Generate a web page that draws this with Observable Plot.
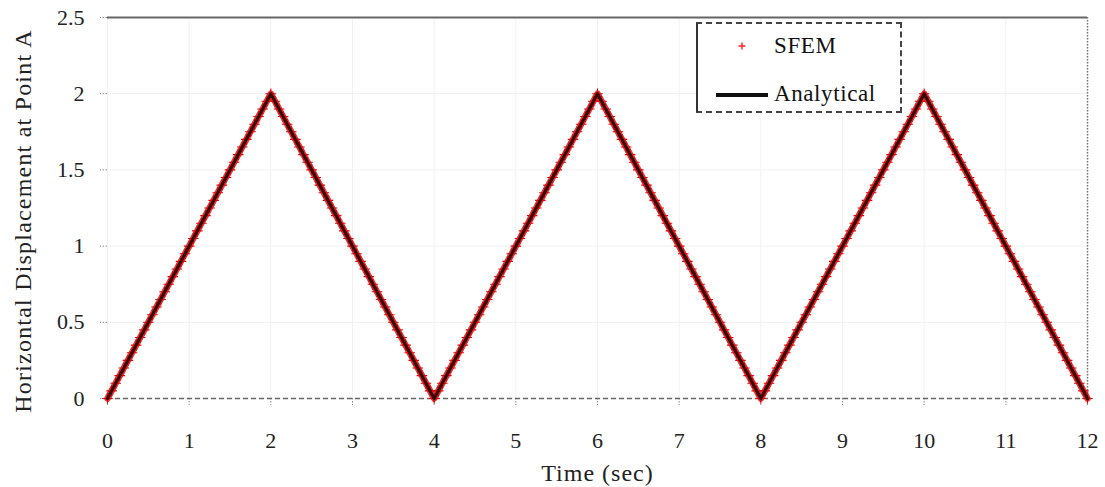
<!DOCTYPE html>
<html>
<head>
<meta charset="utf-8">
<script src="https://cdn.jsdelivr.net/npm/d3@7"></script>
<script src="https://cdn.jsdelivr.net/npm/@observablehq/plot@0.6"></script>
<style>
  body { margin: 0; background: #fff; }
  #wrap { position: relative; width: 1105px; height: 487px; font-family: "Liberation Serif", "Times New Roman", serif; }
  #legend { position: absolute; left: 696px; top: 22px; width: 206px; height: 91px;
    border: 2px dashed #444; border-left: 2px solid #333; background: #fff; box-sizing: border-box; }
  #legend .row { position: absolute; left: 0; display: flex; align-items: center; font-size: 23px; color: #111; letter-spacing: 0.6px; }
</style>
</head>
<body>
<div id="wrap">
  <div id="chart"></div>
  <div id="legend">
    <div class="row" style="top:8px;">
      <svg width="76" height="28"><path d="M44,10.5V17.5M40.5,14H47.5" stroke="#f22" stroke-width="1.4"/></svg>
      <span>SFEM</span>
    </div>
    <div class="row" style="top:56px;">
      <svg width="76" height="28"><line x1="18" x2="70" y1="15" y2="15" stroke="#111" stroke-width="4"/></svg>
      <span>Analytical</span>
    </div>
  </div>
</div>
<script>
// Analytical solution (vertices of the triangular response)
const analyticalTime = [0, 2, 4, 6, 8, 10, 12];
const analyticalDisp = [0, 2, 0, 2, 0, 2, 0];

// SFEM samples
const sfemTime = [
  0,0.05,0.1,0.15,0.2,0.25,0.3,0.35,0.4,0.45,0.5,0.55,0.6,0.65,0.7,0.75,0.8,0.85,0.9,0.95,
  1,1.05,1.1,1.15,1.2,1.25,1.3,1.35,1.4,1.45,1.5,1.55,1.6,1.65,1.7,1.75,1.8,1.85,1.9,1.95,
  2,2.05,2.1,2.15,2.2,2.25,2.3,2.35,2.4,2.45,2.5,2.55,2.6,2.65,2.7,2.75,2.8,2.85,2.9,2.95,
  3,3.05,3.1,3.15,3.2,3.25,3.3,3.35,3.4,3.45,3.5,3.55,3.6,3.65,3.7,3.75,3.8,3.85,3.9,3.95,
  4,4.05,4.1,4.15,4.2,4.25,4.3,4.35,4.4,4.45,4.5,4.55,4.6,4.65,4.7,4.75,4.8,4.85,4.9,4.95,
  5,5.05,5.1,5.15,5.2,5.25,5.3,5.35,5.4,5.45,5.5,5.55,5.6,5.65,5.7,5.75,5.8,5.85,5.9,5.95,
  6,6.05,6.1,6.15,6.2,6.25,6.3,6.35,6.4,6.45,6.5,6.55,6.6,6.65,6.7,6.75,6.8,6.85,6.9,6.95,
  7,7.05,7.1,7.15,7.2,7.25,7.3,7.35,7.4,7.45,7.5,7.55,7.6,7.65,7.7,7.75,7.8,7.85,7.9,7.95,
  8,8.05,8.1,8.15,8.2,8.25,8.3,8.35,8.4,8.45,8.5,8.55,8.6,8.65,8.7,8.75,8.8,8.85,8.9,8.95,
  9,9.05,9.1,9.15,9.2,9.25,9.3,9.35,9.4,9.45,9.5,9.55,9.6,9.65,9.7,9.75,9.8,9.85,9.9,9.95,
  10,10.05,10.1,10.15,10.2,10.25,10.3,10.35,10.4,10.45,10.5,10.55,10.6,10.65,10.7,10.75,10.8,10.85,10.9,10.95,
  11,11.05,11.1,11.15,11.2,11.25,11.3,11.35,11.4,11.45,11.5,11.55,11.6,11.65,11.7,11.75,11.8,11.85,11.9,11.95,
  12
];
const sfemDisp = [
  0,0.05,0.1,0.15,0.2,0.25,0.3,0.35,0.4,0.45,0.5,0.55,0.6,0.65,0.7,0.75,0.8,0.85,0.9,0.95,
  1,1.05,1.1,1.15,1.2,1.25,1.3,1.35,1.4,1.45,1.5,1.55,1.6,1.65,1.7,1.75,1.8,1.85,1.9,1.95,
  2,1.95,1.9,1.85,1.8,1.75,1.7,1.65,1.6,1.55,1.5,1.45,1.4,1.35,1.3,1.25,1.2,1.15,1.1,1.05,
  1,0.95,0.9,0.85,0.8,0.75,0.7,0.65,0.6,0.55,0.5,0.45,0.4,0.35,0.3,0.25,0.2,0.15,0.1,0.05,
  0,0.05,0.1,0.15,0.2,0.25,0.3,0.35,0.4,0.45,0.5,0.55,0.6,0.65,0.7,0.75,0.8,0.85,0.9,0.95,
  1,1.05,1.1,1.15,1.2,1.25,1.3,1.35,1.4,1.45,1.5,1.55,1.6,1.65,1.7,1.75,1.8,1.85,1.9,1.95,
  2,1.95,1.9,1.85,1.8,1.75,1.7,1.65,1.6,1.55,1.5,1.45,1.4,1.35,1.3,1.25,1.2,1.15,1.1,1.05,
  1,0.95,0.9,0.85,0.8,0.75,0.7,0.65,0.6,0.55,0.5,0.45,0.4,0.35,0.3,0.25,0.2,0.15,0.1,0.05,
  0,0.05,0.1,0.15,0.2,0.25,0.3,0.35,0.4,0.45,0.5,0.55,0.6,0.65,0.7,0.75,0.8,0.85,0.9,0.95,
  1,1.05,1.1,1.15,1.2,1.25,1.3,1.35,1.4,1.45,1.5,1.55,1.6,1.65,1.7,1.75,1.8,1.85,1.9,1.95,
  2,1.95,1.9,1.85,1.8,1.75,1.7,1.65,1.6,1.55,1.5,1.45,1.4,1.35,1.3,1.25,1.2,1.15,1.1,1.05,
  1,0.95,0.9,0.85,0.8,0.75,0.7,0.65,0.6,0.55,0.5,0.45,0.4,0.35,0.3,0.25,0.2,0.15,0.1,0.05,
  0
];

const xTicks = [0,1,2,3,4,5,6,7,8,9,10,11,12];
const yTicks = [0,0.5,1,1.5,2,2.5];
const xLabel = "Time (sec)";
const yLabel = "Horizontal Displacement at Point A";

const sfem = sfemTime.map((t, i) => ({t, d: sfemDisp[i]}));
const analytical = analyticalTime.map((t, i) => ({t, d: analyticalDisp[i]}));

const chart = Plot.plot({
  width: 1105,
  height: 487,
  marginLeft: 107,
  marginRight: 18,
  marginTop: 17,
  marginBottom: 89,
  style: { fontFamily: "Liberation Serif, Times New Roman, serif", fontSize: "22px", color: "#222", background: "#fff", overflow: "visible" },
  x: { domain: [0, 12] },
  y: { domain: [0, 2.5] },
  marks: [
    Plot.gridX(xTicks, { stroke: "#f1f1f1", strokeOpacity: 1 }),
    Plot.gridY(yTicks, { stroke: "#f1f1f1", strokeOpacity: 1 }),
    Plot.axisX(xTicks, { tickSize: 7, tickPadding: 27, stroke: "#888", strokeDasharray: "1.5,1.5",
      tickFormat: d => String(d),
      fontSize: 22, label: xLabel, labelAnchor: "center", labelArrow: "none", labelOffset: 82 }),
    Plot.axisY(yTicks, { tickSize: 7, tickPadding: 16, stroke: "#888", strokeDasharray: "1.5,1.5",
      tickFormat: d => String(d),
      fontSize: 22, label: yLabel, labelAnchor: "center", labelArrow: "none", labelOffset: 94 }),
    Plot.ruleY([2.5], { stroke: "#666", strokeWidth: 2 }),
    Plot.ruleY([0], { stroke: "#666", strokeWidth: 1.5, strokeDasharray: "5,3" }),
    Plot.ruleX([12], { stroke: "#777", strokeWidth: 1.5, strokeDasharray: "1.5,1.5" }),
    Plot.line(sfem, { x: "t", y: "d", stroke: "#e01010", strokeWidth: 6.5, strokeOpacity: 0.85 }),
    Plot.dot(sfem, { x: "t", y: "d", symbol: "plus", r: 3.5, stroke: "#e00", strokeWidth: 1.1 }),
    Plot.line(analytical, { x: "t", y: "d", stroke: "#1a0000", strokeWidth: 3.2, strokeOpacity: 0.85 })
  ]
});
document.getElementById("chart").appendChild(chart);

// fine-tune axis title typography
d3.select(chart).selectAll('g[aria-label="y-axis label"] text')
  .attr("font-size", 24).attr("letter-spacing", "1.2px").attr("dx", -13);
d3.select(chart).selectAll('g[aria-label="x-axis label"] text')
  .attr("font-size", 24).attr("letter-spacing", "1px");
</script>
</body>
</html>
